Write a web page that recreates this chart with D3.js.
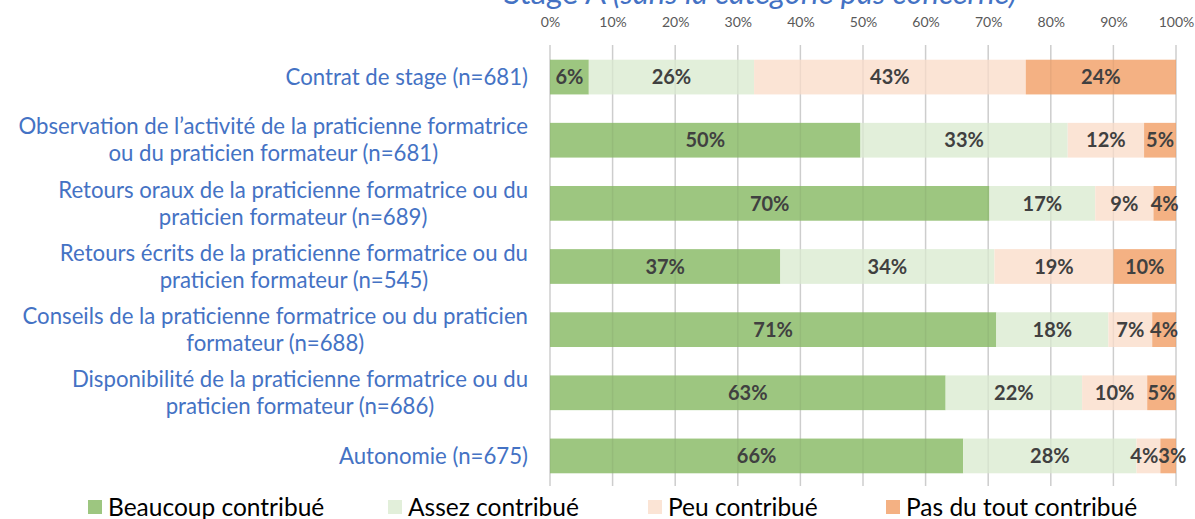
<!DOCTYPE html>
<html>
<head>
<meta charset="utf-8">
<script src="https://cdn.jsdelivr.net/npm/d3@7"></script>
<style>
  body { margin: 0; background: #fff; }
  svg { display: block; font-family: Lato, "Open Sans", sans-serif; }
</style>
</head>
<body>
<svg id="chart" width="1195" height="519"></svg>
<script>
// categories (top to bottom) and share of answers per level, in %
var categories = [
  "Contrat de stage (n=681)",
  "Observation de l’activité de la praticienne formatrice ou du praticien formateur (n=681)",
  "Retours oraux de la praticienne formatrice ou du praticien formateur (n=689)",
  "Retours écrits de la praticienne formatrice ou du praticien formateur (n=545)",
  "Conseils de la praticienne formatrice ou du praticien formateur (n=688)",
  "Disponibilité de la praticienne formatrice ou du praticien formateur (n=686)",
  "Autonomie (n=675)"
];
var seriesNames = ["Beaucoup contribué", "Assez contribué", "Peu contribué", "Pas du tout contribué"];
var beaucoup = [6.2, 49.6, 70.2, 36.8, 71.3, 63.2, 66.0];
var assez    = [26.4, 33.1, 16.9, 34.2, 17.9, 21.8, 27.7];
var peu      = [43.4, 12.2, 9.3, 19.0, 7.0, 10.4, 3.8];
var pasDuTout= [24.0, 5.1, 3.6, 10.0, 3.8, 4.6, 2.5];
var tickValues = [0, 0.1, 0.2, 0.3, 0.4, 0.5, 0.6, 0.7, 0.8, 0.9, 1];
var colors = ["#9dc680", "#e2efda", "#fbe4d5", "#f4b183"];

var svg = d3.select("#chart");

var rows = categories.map(function(c, i) {
  return { cat: c, v: [beaucoup[i], assez[i], peu[i], pasDuTout[i]] };
});

var x = d3.scaleLinear().domain([0, 1]).range([550, 1176]);
var y = d3.scaleBand().domain(categories).range([45.5, 487.5]).paddingInner(0.45).paddingOuter(0.225);

// title (mostly cut by the top edge in the source)
var title = svg.append("text")
  .attr("x", 760).attr("y", 4)
  .attr("text-anchor", "middle")
  .style("font-size", "31px").style("fill", "#4472c4");
title.append("tspan").text("Stage A ");
title.append("tspan").style("font-style", "italic").text("(sans la catégorie pas concerné)");

// gridlines
svg.append("g").selectAll("line").data(tickValues).enter().append("line")
  .attr("x1", function(d) { return x(d); }).attr("x2", function(d) { return x(d); })
  .attr("y1", 45).attr("y2", 486)
  .style("stroke", "#d9d9d9").style("stroke-width", 1.5);

// top axis
var axis = svg.append("g").attr("transform", "translate(0,27)")
  .call(d3.axisTop(x).tickValues(tickValues).tickFormat(d3.format(".0%")).tickSize(0).tickPadding(0));
axis.select(".domain").remove();
axis.selectAll("text").style("font-size", "14px").style("fill", "#595959").style("font-family", "Lato, sans-serif");

// stacked bars
var stack = rows.map(function(r) {
  var acc = 0;
  return r.v.map(function(v, k) {
    var s = { cat: r.cat, k: k, v: v, x0: acc / 100, x1: (acc + v) / 100 };
    acc += v;
    return s;
  });
});
var segs = [].concat.apply([], stack);

svg.append("g").selectAll("rect").data(segs).enter().append("rect")
  .attr("x", function(d) { return x(d.x0); })
  .attr("width", function(d) { return x(d.x1) - x(d.x0); })
  .attr("y", function(d) { return y(d.cat); })
  .attr("height", y.bandwidth())
  .style("fill", function(d) { return colors[d.k]; });

// faint gridline shadow seen through the bars
svg.append("g").selectAll("line").data(tickValues).enter().append("line")
  .attr("x1", function(d) { return x(d); }).attr("x2", function(d) { return x(d); })
  .attr("y1", 45).attr("y2", 486)
  .style("stroke", "#000").style("stroke-opacity", 0.05).style("stroke-width", 1.5);

var valueLabels = svg.append("g").selectAll("text").data(segs).enter().append("text")
  .attr("x", function(d) { return (x(d.x0) + x(d.x1)) / 2; })
  .attr("y", function(d) { return y(d.cat) + y.bandwidth() / 2; })
  .attr("dy", "0.36em")
  .attr("text-anchor", "middle")
  .style("font-size", "20px").style("font-weight", "bold").style("fill", "#404040")
  .text(function(d) { return Math.round(d.v) + "%"; });

// push apart neighbouring labels of narrow segments so they only touch
stack.forEach(function(row, r) {
  var nodes = valueLabels.filter(function(d) { return d.cat === row[0].cat; }).nodes();
  for (var k = 1; k < nodes.length; k++) {
    var a = nodes[k - 1], b = nodes[k];
    var ax = +a.getAttribute("x"), bx = +b.getAttribute("x");
    var gap = (bx - ax) - (a.getComputedTextLength() + b.getComputedTextLength()) / 2;
    if (gap < 0) {
      a.setAttribute("x", ax + gap / 2);
      b.setAttribute("x", bx - gap / 2);
    }
  }
});

// category labels, wrapped and centred in a right-aligned box
var labelRight = 528, maxW = 520, lineH = 27;
var labels = svg.append("g").style("font-size", "22.2px").style("fill", "#4472c4");
categories.forEach(function(c) {
  var t = labels.append("text").attr("text-anchor", "middle");
  var words = c.split(" "), lines = [], cur = [];
  var probe = labels.append("text");
  words.forEach(function(w) {
    var test = cur.concat([w]).join(" ");
    probe.text(test);
    if (cur.length && probe.node().getComputedTextLength() > maxW) {
      lines.push(cur.join(" "));
      cur = [w];
    } else {
      cur.push(w);
    }
  });
  lines.push(cur.join(" "));
  var widest = d3.max(lines, function(l) { probe.text(l); return probe.node().getComputedTextLength(); });
  probe.remove();
  var cx = labelRight - widest / 2;
  var cy = y(c) + y.bandwidth() / 2;
  lines.forEach(function(l, i) {
    t.append("tspan").attr("x", cx)
      .attr("y", cy + (i - (lines.length - 1) / 2) * lineH)
      .attr("dy", "0.35em").text(l);
  });
});

// legend
var legendX = [88, 388, 648, 886];
var legend = svg.append("g").selectAll("g").data(seriesNames).enter().append("g")
  .attr("transform", function(d, i) { return "translate(" + legendX[i] + ",500)"; });
legend.append("rect").attr("width", 14).attr("height", 14)
  .style("fill", function(d, i) { return colors[i]; });
legend.append("text").attr("x", 20).attr("y", 7).attr("dy", "0.36em")
  .style("font-size", "24.5px").style("fill", "#000")
  .text(function(d) { return d; });
</script>
</body>
</html>
